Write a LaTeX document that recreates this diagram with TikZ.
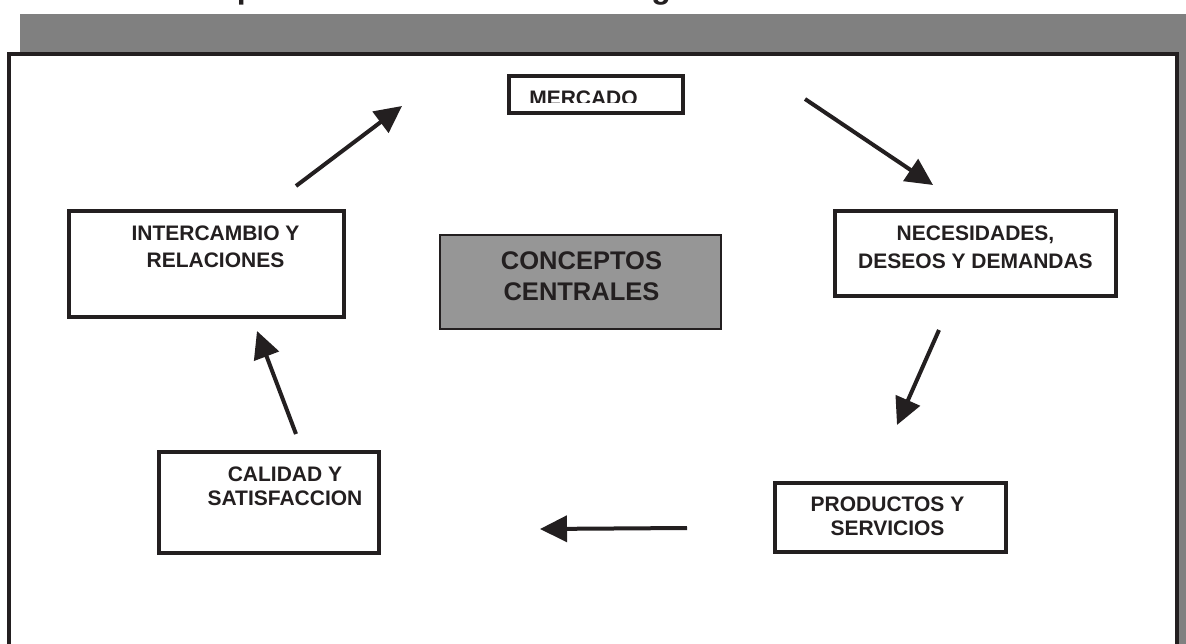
\documentclass[tikz,border=0pt]{standalone}
\usepackage{fontspec}
\setmainfont{Liberation Sans}
\usetikzlibrary{arrows.meta}
\definecolor{ink}{HTML}{231F20}
\definecolor{shadowgray}{HTML}{808080}
\definecolor{coregray}{HTML}{969696}

\begin{document}
\begin{tikzpicture}[x=1pt,y=-1pt,
  box/.style={draw=ink, line width=3.5pt, fill=white, inner sep=0pt},
  corebox/.style={draw=ink, line width=2pt, fill=coregray, inner sep=0pt},
  label/.style={anchor=north, inner sep=0pt, align=center, text=ink,
                font=\bfseries\fontsize{21}{27}\selectfont},
  flow/.style={draw=ink, line width=4pt, -{Triangle[length=27pt,width=26pt]}}
]
\useasboundingbox (0,0) rectangle (1186,644);

% title line, mostly above the page edge
\begin{scope}
  \clip (0,0) rectangle (1186,14);
  \node[anchor=base west, inner sep=0pt, text=ink,
        font=\bfseries\fontsize{32}{38}\selectfont] (title) at (139,-1.5)
        {Conceptos centrales del marketing};
\end{scope}

% shadowed frame
\fill[shadowgray] (20,14) rectangle (1186,660);
\draw[draw=ink, line width=4pt, fill=white] (9,54) rectangle (1177,670);

% boxes
\node[box, minimum width=174pt, minimum height=37pt] (mercado) at (596,94.5) {};
\node[box, minimum width=275pt, minimum height=106pt] (interc) at (206.5,264) {};
\node[box, minimum width=281pt, minimum height=85pt] (neces) at (975.5,253.5) {};
\node[box, minimum width=220pt, minimum height=101pt] (calidad) at (269,502.5) {};
\node[box, minimum width=231pt, minimum height=69pt] (productos) at (890.5,517.5) {};
\node[corebox, minimum width=281pt, minimum height=94pt] (core) at (580.5,282) {};

% labels
\begin{scope}
  \clip (509,76) rectangle (683,103);
  \node[label] (mercadoT) at (583.5,91) {MERCADO};
\end{scope}
\node[label] (intercT) at (215.5,226) {INTERCAMBIO Y\\RELACIONES};
\node[label, font=\bfseries\fontsize{21}{27.5}\selectfont] (necesT) at (975.5,226)
  {NECESIDADES,\\DESEOS Y DEMANDAS};
\node[label, font=\bfseries\fontsize{21}{24}\selectfont] (calidadT) at (285,467)
  {CALIDAD Y\\SATISFACCION};
\node[label, font=\bfseries\fontsize{21}{24}\selectfont] (productosT) at (887.5,497)
  {PRODUCTOS Y\\SERVICIOS};
\node[label, font=\bfseries\fontsize{25.5}{31}\selectfont] (coreT) at (581.5,251)
  {CONCEPTOS\\CENTRALES};

% arrow end points
\coordinate (a1s) at (296,186);  \coordinate (a1e) at (402,106);
\coordinate (a2s) at (805,99);   \coordinate (a2e) at (933,185);
\coordinate (a3s) at (939,330);  \coordinate (a3e) at (897,425);
\coordinate (a4s) at (687,528);  \coordinate (a4e) at (540,529);
\coordinate (a5s) at (296,434);  \coordinate (a5e) at (257,331);

\draw[flow] (a1s) -- (a1e);
\draw[flow] (a2s) -- (a2e);
\draw[flow] (a3s) -- (a3e);
\draw[flow] (a4s) -- (a4e);
\draw[flow] (a5s) -- (a5e);
\end{tikzpicture}
\end{document}
